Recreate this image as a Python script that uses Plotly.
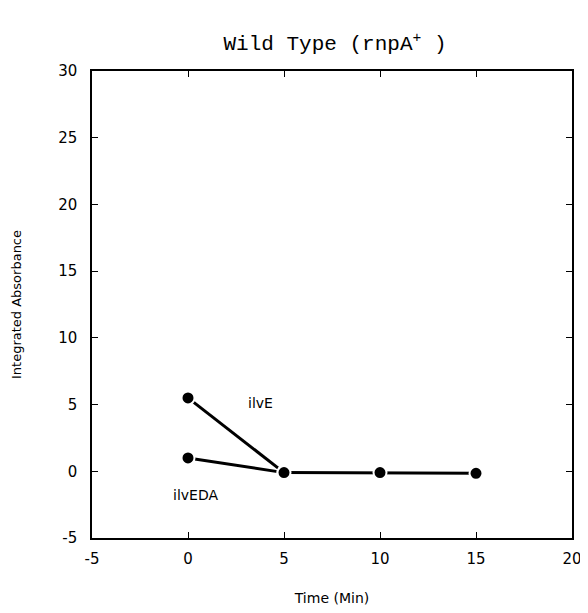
import plotly.graph_objects as go

# Data
time_ilvE = [0, 5]
abs_ilvE = [5.5, -0.1]
time_ilvEDA = [0, 5]
abs_ilvEDA = [1.0, -0.1]
time_tail = [5, 10, 15]
abs_tail = [-0.1, -0.1, -0.15]

x_ticks = [-5, 0, 5, 10, 15, 20]
y_ticks = [-5, 0, 5, 10, 15, 20, 25, 30]

label_ilvE = {"text": "ilvE", "x": 3.8, "y": 5.1}
label_ilvEDA = {"text": "ilvEDA", "x": 0.4, "y": -1.8}

fig = go.Figure()

marker_style = dict(size=13, color="black", line=dict(color="white", width=2))
line_style = dict(color="black", width=3)

for xs, ys in [(time_ilvE, abs_ilvE), (time_ilvEDA, abs_ilvEDA), (time_tail, abs_tail)]:
    fig.add_trace(go.Scatter(x=xs, y=ys, mode="lines+markers",
                             line=line_style, marker=marker_style,
                             showlegend=False, hoverinfo="skip"))

for lab in (label_ilvE, label_ilvEDA):
    fig.add_annotation(x=lab["x"], y=lab["y"], text=lab["text"], showarrow=False,
                       xanchor="center", yanchor="middle",
                       font=dict(family="DejaVu Sans", size=14, color="black"))

axis_common = dict(showgrid=False, zeroline=False, showline=True, linecolor="black",
                   linewidth=1.5, mirror="allticks", ticks="inside", ticklen=6,
                   tickcolor="black", tickwidth=1.2,
                   tickfont=dict(family="DejaVu Sans", size=15, color="black"))

fig.update_xaxes(range=[-5, 20], tickvals=x_ticks, ticktext=[str(v) for v in x_ticks],
                 ticklabelstandoff=6,
                 title=dict(text="Time (Min)", standoff=26,
                            font=dict(family="DejaVu Sans", size=14, color="black")),
                 **axis_common)
fig.update_yaxes(range=[-5, 30], tickvals=y_ticks, ticktext=[str(v) for v in y_ticks],
                 ticklabelstandoff=10,
                 title=dict(text="Integrated Absorbance", standoff=34,
                            font=dict(family="DejaVu Sans", size=13, color="black")),
                 **axis_common)

fig.update_layout(
    width=588, height=613,
    margin=dict(l=84, r=24, t=63, b=83, autoexpand=False),
    paper_bgcolor="white", plot_bgcolor="white",
    title=dict(text="Wild Type (rnpA<sup>+</sup> )", x=327 / 588, xanchor="center",
               y=1 - 35 / 613, yanchor="middle",
               font=dict(family="Liberation Mono", size=21, color="black")),
)

fig.write_html("out.html")
